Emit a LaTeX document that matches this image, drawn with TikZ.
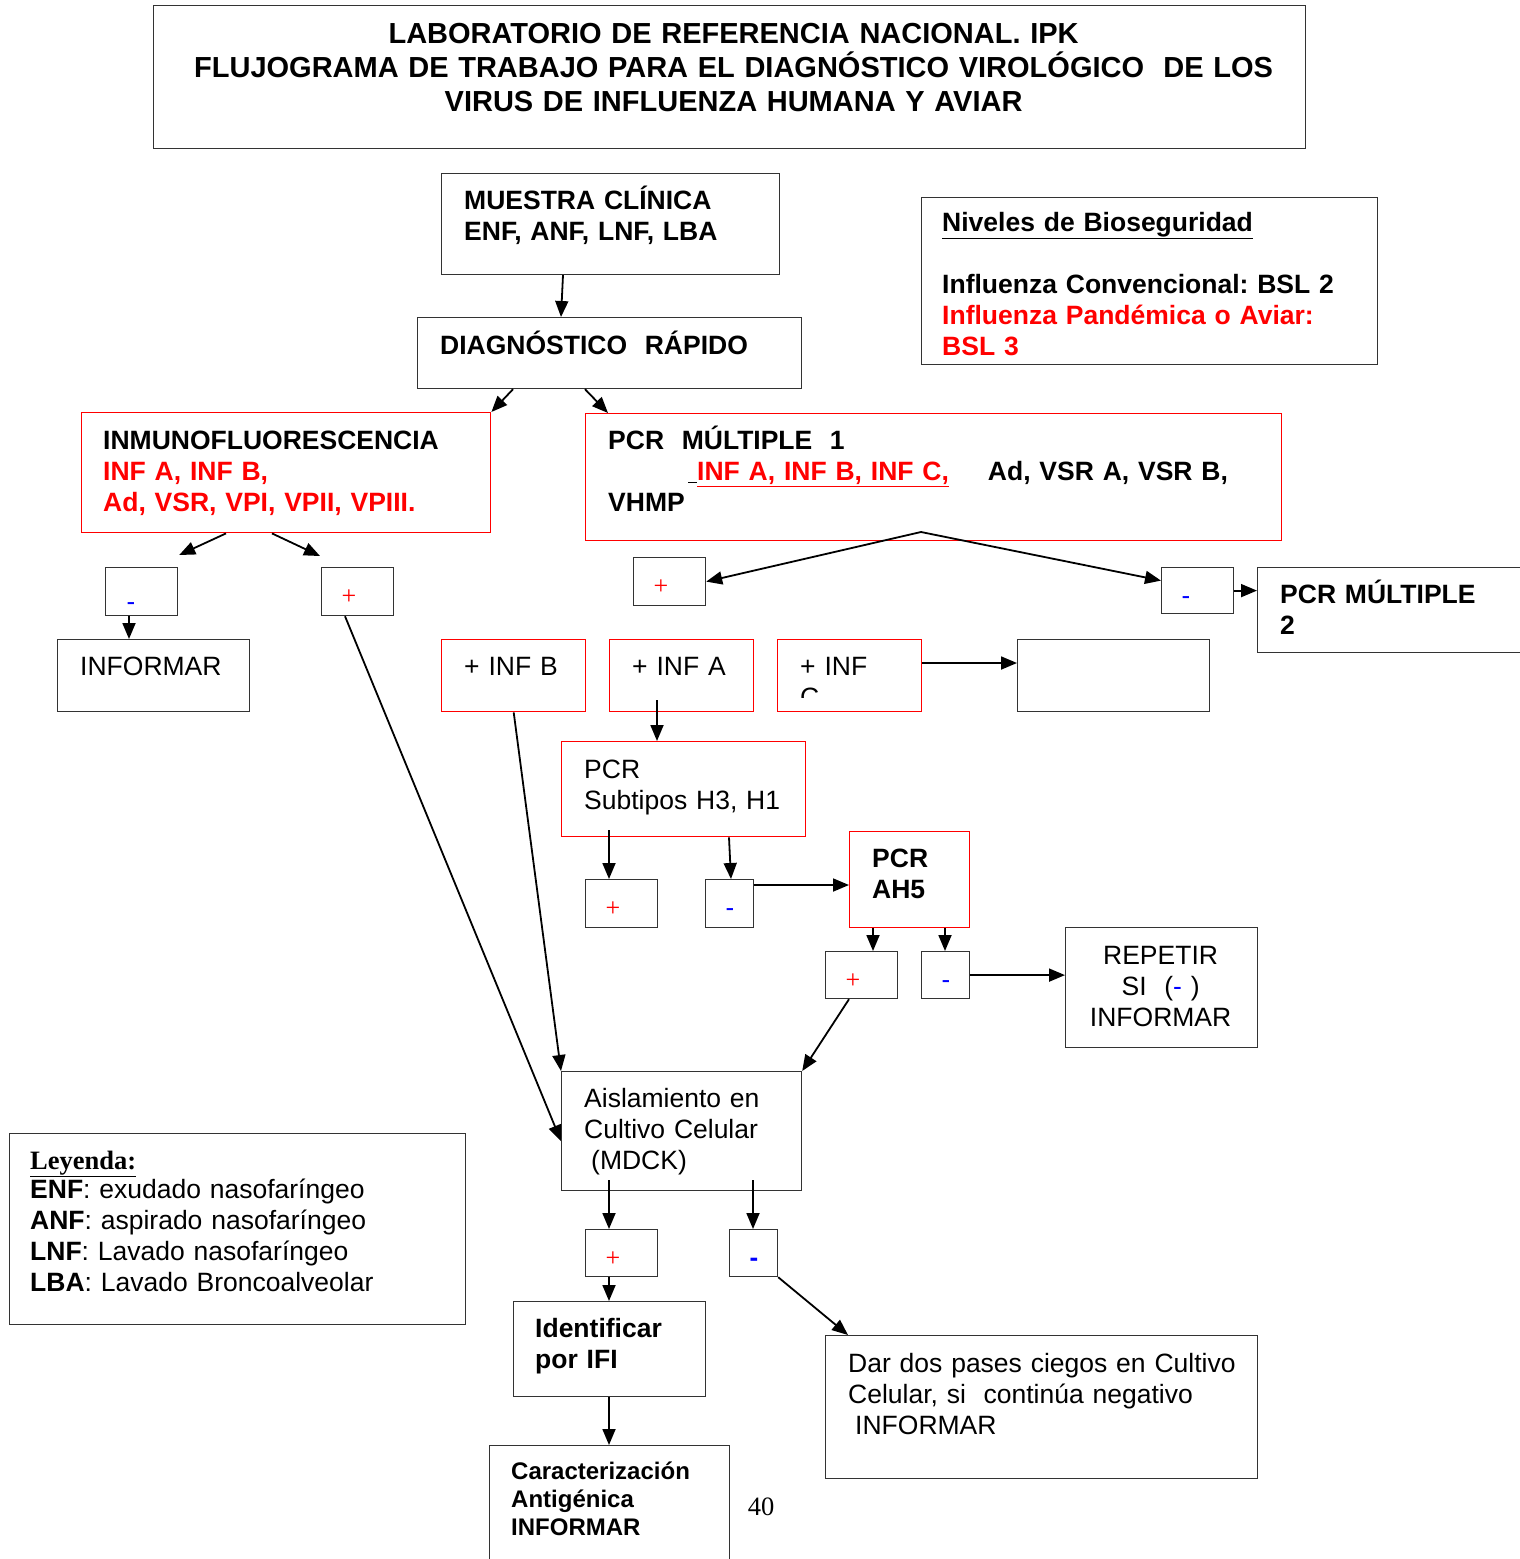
\documentclass[tikz,border=0pt]{standalone}
\usepackage{fontspec}
\setmainfont{Liberation Sans}
\newfontfamily\timesfont{Liberation Serif}
\usetikzlibrary{arrows.meta, positioning}
\frenchspacing

\begin{document}
\begin{tikzpicture}[
    x=1pt, y=-1pt,
    box/.style={draw=black!80, line width=1.2pt, inner sep=0pt, anchor=north west},
    redbox/.style={box, draw=red, line width=1.4pt},
    wh/.style 2 args={minimum width=#1pt, minimum height=#2pt},
    txt/.style={anchor=base west, inner sep=0pt, align=left, text width=640pt, font=\fontsize{26.5}{31}\selectfont},
    btxt/.style={txt, font=\fontsize{26.5}{31}\selectfont\bfseries},
    ctxt/.style={txt, anchor=base, align=center},
    possign/.style={anchor=base, inner sep=0pt, text=red, font=\timesfont\fontsize{26}{26}\selectfont},
    negsign/.style={anchor=base, inner sep=0pt, text=blue, font=\fontsize{26}{26}\selectfont},
    line/.style={draw, line width=1.8pt, -{Triangle[length=16pt, width=13pt]}}
]
    \useasboundingbox[fill=white] (0,0) rectangle (1520,1559);

    % Title
    \node[box, wh={1152}{143}] (title) at (153,5) {};
    \node[ctxt, text width=1152pt, font=\fontsize{29}{34}\selectfont\bfseries] (title-t) at ([shift={(4,38.4)}]title.north)
        {LABORATORIO DE REFERENCIA NACIONAL. IPK\\FLUJOGRAMA DE TRABAJO PARA EL DIAGNÓSTICO VIROLÓGICO~~DE LOS\\VIRUS DE INFLUENZA HUMANA Y AVIAR};

    % Sample and rapid diagnosis
    \node[box, wh={338}{101}] (ms) at (441,173) {};
    \node[btxt] (ms-t) at ([shift={(23,36.5)}]ms.north west) {MUESTRA CLÍNICA\\ENF, ANF, LNF, LBA};
    \node[box, wh={384}{71}] (dr) at (417,317) {};
    \node[btxt] (dr-t) at ([shift={(23,37.5)}]dr.north west) {DIAGNÓSTICO~~RÁPIDO};

    % Biosafety levels
    \node[box, wh={456}{167}] (bsl) at (921,197) {};
    \node[btxt] (bsl-t) at ([shift={(21,34.5)}]bsl.north west)
        {\underline{Niveles de Bioseguridad}\\[31pt]Influenza Convencional: BSL 2\\
         \textcolor{red}{Influenza Pandémica o Aviar:}\\\textcolor{red}{BSL 3}};

    % Immunofluorescence branch
    \node[redbox, wh={409}{120}] (ifl) at (81,412) {};
    \node[btxt] (ifl-t) at ([shift={(22,37.5)}]ifl.north west)
        {INMUNOFLUORESCENCIA\\\textcolor{red}{INF A, INF B,}\\\textcolor{red}{Ad, VSR, VPI, VPII, VPIII.}};
    \node[box, wh={72}{48}] (ifneg) at (105,567) {};
    \node[negsign] (ifneg-s) at ([shift={(26,43)}]ifneg.north west) {-};
    \node[box, wh={72}{48}] (ifpos) at (321,567) {};
    \node[possign] (ifpos-s) at ([shift={(28,37.6)}]ifpos.north west) {+};
    \node[box, wh={192}{72}] (inf1) at (57,639) {};
    \node[txt] (inf1-t) at ([shift={(23,36.5)}]inf1.north west) {INFORMAR};

    % Multiplex PCR branch
    \node[redbox, wh={696}{127}] (pcr1) at (585,413) {};
    \node[btxt, text width=700pt] (pcr1-t) at ([shift={(23,36.5)}]pcr1.north west)
        {PCR~~MÚLTIPLE~~1\\
         \hspace*{80pt}\underline{\hspace{9pt}}\textcolor{red}{\underline{INF A, INF B, INF C,}}\hspace{39pt}Ad, VSR A, VSR B,\\
         VHMP};
    \coordinate (apex) at (921,532);
    \node[box, wh={72}{48}] (p1pos) at (633,557) {};
    \node[possign] (p1pos-s) at ([shift={(28,37.6)}]p1pos.north west) {+};
    \node[box, wh={72}{46}] (p1neg) at (1161,567) {};
    \node[negsign] (p1neg-s) at ([shift={(25,37)}]p1neg.north west) {-};
    \node[box, wh={280}{85}] (pcr2) at (1257,567) {};
    \node[btxt] (pcr2-t) at ([shift={(23,36.5)}]pcr2.north west) {PCR MÚLTIPLE\\2};

    \node[redbox, wh={144}{72}] (infb) at (441,639) {};
    \node[txt] (infb-t) at ([shift={(23,36.5)}]infb.north west) {+ INF B};
    \node[redbox, wh={144}{72}] (infa) at (609,639) {};
    \node[txt] (infa-t) at ([shift={(23,36.5)}]infa.north west) {+ INF A};
    \node[redbox, wh={144}{72}] (infc) at (777,639) {};
    \begin{scope}
        \clip (777,639) rectangle (921,697);
        \node[txt] (infc-t) at ([shift={(23,36.5)}]infc.north west) {+ INF\\C};
    \end{scope}
    \node[box, wh={192}{72}] (vacio) at (1017,639) {};

    % Subtyping
    \node[redbox, wh={244}{95}] (sub) at (561,741) {};
    \node[txt] (sub-t) at ([shift={(23,37.5)}]sub.north west) {PCR\\Subtipos H3, H1};
    \node[box, wh={72}{48}] (subpos) at (585,879) {};
    \node[possign] (subpos-s) at ([shift={(28,37.6)}]subpos.north west) {+};
    \node[box, wh={48}{48}] (subneg) at (705,879) {};
    \node[negsign] (subneg-s) at ([shift={(25,37)}]subneg.north west) {-};
    \node[redbox, wh={120}{96}] (ah5) at (849,831) {};
    \node[btxt] (ah5-t) at ([shift={(23,36.5)}]ah5.north west) {PCR\\AH5};
    \node[box, wh={72}{47}] (ahpos) at (825,951) {};
    \node[possign] (ahpos-s) at ([shift={(28,37.6)}]ahpos.north west) {+};
    \node[box, wh={48}{47}] (ahneg) at (921,951) {};
    \node[negsign] (ahneg-s) at ([shift={(25,37)}]ahneg.north west) {-};
    \node[box, wh={192}{120}] (rep) at (1065,927) {};
    \node[ctxt, text width=192pt] (rep-t) at ([shift={(-1,37.5)}]rep.north)
        {REPETIR\\SI~~(\textcolor{blue}{-}~)\\INFORMAR};

    % Cell culture
    \node[box, wh={240}{119}] (ais) at (561,1071) {};
    \node[txt] (ais-t) at ([shift={(23,36.5)}]ais.north west) {Aislamiento en\\Cultivo Celular\\\hspace*{7pt}(MDCK)};
    \node[box, wh={72}{47}] (aispos) at (585,1229) {};
    \node[possign] (aispos-s) at ([shift={(28,37.6)}]aispos.north west) {+};
    \node[box, wh={48}{47}] (aisneg) at (729,1229) {};
    \node[negsign, font=\fontsize{26}{26}\selectfont\bfseries] (aisneg-s) at ([shift={(25,37)}]aisneg.north west) {-};
    \node[box, wh={192}{95}] (ifi) at (513,1301) {};
    \node[btxt] (ifi-t) at ([shift={(22,36.5)}]ifi.north west) {Identificar\\por IFI};
    \node[box, wh={240}{130}] (car) at (489,1445) {};
    \node[btxt, font=\fontsize{24}{28}\selectfont\bfseries] (car-t) at ([shift={(22,34.6)}]car.north west)
        {Caracterización\\Antigénica\\INFORMAR};
    \node[box, wh={432}{143}] (pases) at (825,1335) {};
    \node[txt] (pases-t) at ([shift={(23,37.5)}]pases.north west)
        {Dar dos pases ciegos en Cultivo\\Celular, si~~continúa negativo\\\hspace*{7pt}INFORMAR};

    % Legend and page number
    \node[box, wh={456}{191}] (ley) at (9,1133) {};
    \node[txt] (ley-t) at ([shift={(21,36)}]ley.north west)
        {{\timesfont\bfseries\underline{Leyenda:}}\\[-1.5pt]
         \textbf{ENF}: exudado nasofaríngeo\\\textbf{ANF}: aspirado nasofaríngeo\\
         \textbf{LNF}: Lavado nasofaríngeo\\\textbf{LBA}: Lavado Broncoalveolar};
    \node[inner sep=0pt, font=\timesfont\fontsize{26.5}{30}\selectfont] (pg) at (761,1507) {40};

    % Arrows
    \path[line] (563,0 |- ms.south) -- (561,0 |- dr.north);
    \path[line] (513,0 |- dr.south) -- (ifl.north east);
    \path[line] (585,0 |- dr.south) -- (608,0 |- pcr1.north);
    \path[line] (226,0 |- ifl.south) -- ([shift={(1,-12)}]ifneg.north east);
    \path[line] (272,0 |- ifl.south) -- ([shift={(-1,-11)}]ifpos.north west);
    \path[line] (129,0 |- ifneg.south) -- (129,0 |- inf1.north);
    \path[line] (345,0 |- ifpos.south) -- ([yshift=-10pt]ais.west);
    \path[line] (apex) -- (p1pos.east);
    \path[line] (apex) -- ([yshift=10pt]p1neg.west);
    \path[line] (p1neg.east) -- (p1neg.east -| pcr2.west);
    \path[line] (infb.south) -- (ais.north west);
    \path[line] (657,700) -- (657,0 |- sub.north);
    \path[line] (0,663 -| infc.east) -- (0,663 -| vacio.west);
    \path[line] (609,830) -- (609,0 |- subpos.north);
    \path[line] (729,0 |- sub.south) -- (731,0 |- subneg.north);
    \path[line] (0,885 -| subneg.east) -- (0,885 -| ah5.west);
    \path[line] (873,0 |- ah5.south) -- (873,0 |- ahpos.north);
    \path[line] (945,0 |- ah5.south) -- (945,0 |- ahneg.north);
    \path[line] (ahneg.east) -- (ahneg.east -| rep.west);
    \path[line] (849,0 |- ahpos.south) -- (ais.north east);
    \path[line] (609,1180) -- (609,0 |- aispos.north);
    \path[line] (753,1180) -- (753,0 |- aisneg.north);
    \path[line] (609,0 |- aispos.south) -- (609,0 |- ifi.north);
    \path[line] (aisneg.south east) -- ([xshift=23pt]pases.north west);
    \path[line] (609,0 |- ifi.south) -- (609,0 |- car.north);

\end{tikzpicture}
\end{document}
